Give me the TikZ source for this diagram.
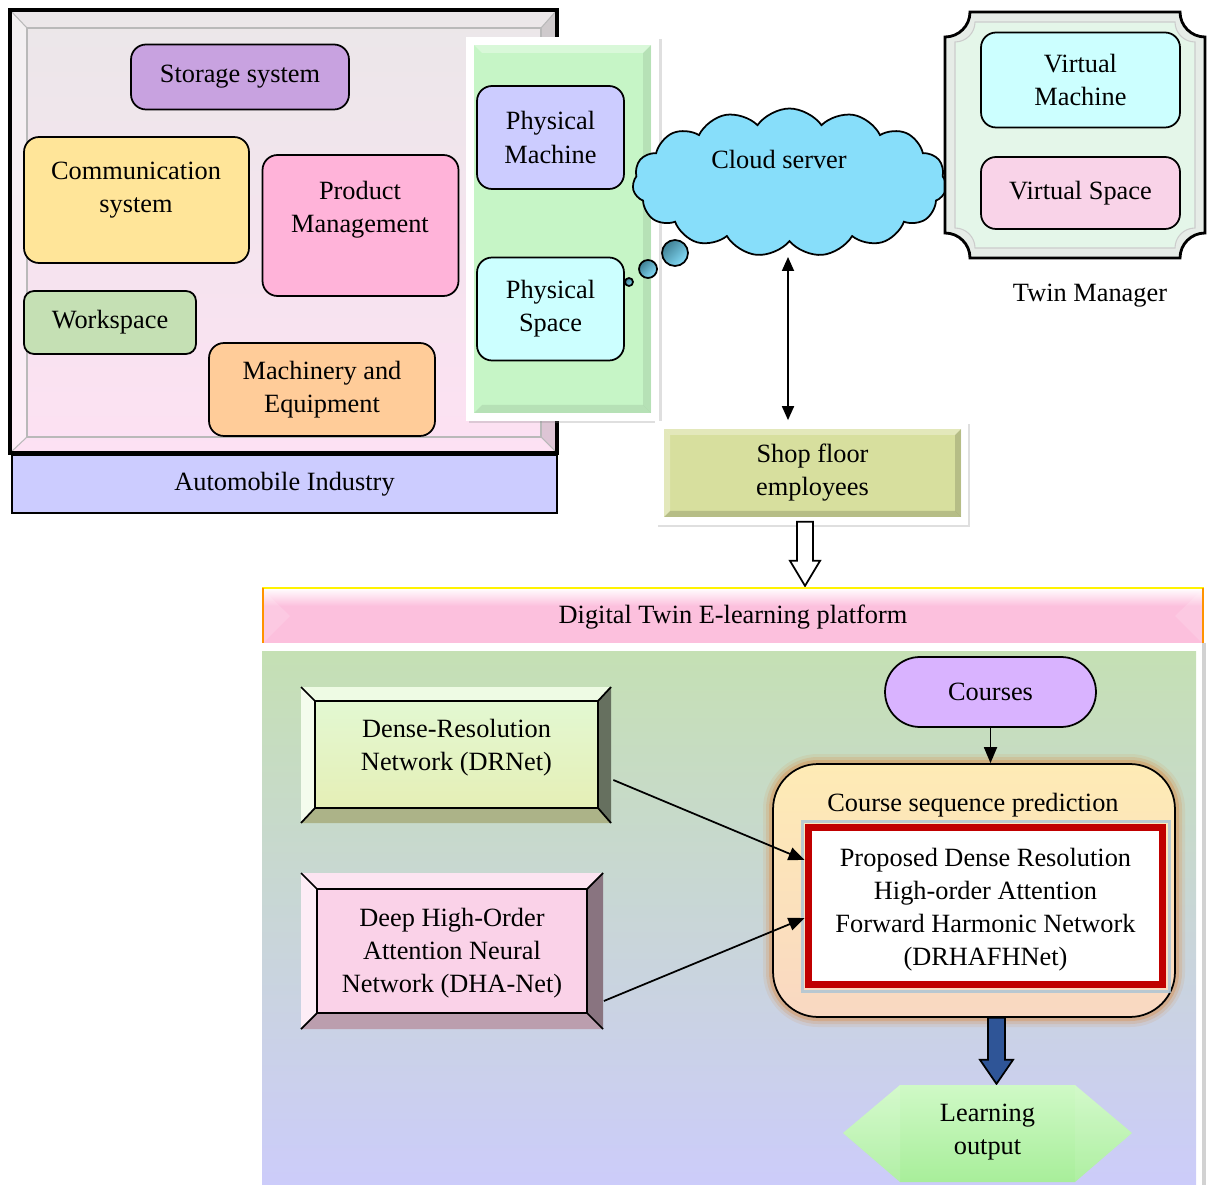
\documentclass[tikz,border=0pt]{standalone}
\usepackage{fontspec}
\setmainfont{Liberation Serif}
\usetikzlibrary{shapes.symbols,arrows.meta,calc,shadows}

\definecolor{autotop}{HTML}{EBE7E9}
\definecolor{autobot}{HTML}{FDE1F3}
\definecolor{autolbl}{HTML}{CCCCFF}
\definecolor{storagec}{HTML}{C8A2E0}
\definecolor{commc}{HTML}{FFE599}
\definecolor{prodc}{HTML}{FFB3D9}
\definecolor{workc}{HTML}{C5E0B4}
\definecolor{machc}{HTML}{FFCC99}
\definecolor{greenpan}{HTML}{C6F5C6}
\definecolor{physmc}{HTML}{CCCCFF}
\definecolor{physsc}{HTML}{CCFFFF}
\definecolor{cloudc}{HTML}{87DEFA}
\definecolor{bubdark}{HTML}{3E7F93}
\definecolor{twinin}{HTML}{E4F6E9}
\definecolor{twinout}{HTML}{E6ECE7}
\definecolor{virtmc}{HTML}{CCFFFF}
\definecolor{virtsc}{HTML}{F9D3E8}
\definecolor{shopc}{HTML}{D7DF9E}
\definecolor{bannerc}{HTML}{FCC0DD}
\definecolor{paneltop}{HTML}{C5E0B4}
\definecolor{panelbot}{HTML}{CCCCFA}
\definecolor{drc}{HTML}{E3F8D2}
\definecolor{drcb}{HTML}{E5EFB6}
\definecolor{dhac}{HTML}{FAD2E8}
\definecolor{coursec}{HTML}{D9B3FF}
\definecolor{seqtop}{HTML}{FEEBB5}
\definecolor{seqbot}{HTML}{F9D8C2}
\definecolor{glowc}{HTML}{D98A45}
\definecolor{glowb}{HTML}{A9C4D6}
\definecolor{redc}{HTML}{C00000}
\definecolor{bluearr}{HTML}{2F5597}
\definecolor{learntop}{HTML}{CFF9C6}
\definecolor{learnbot}{HTML}{A8EE9A}

\begin{document}
\begin{tikzpicture}[x=0.02cm, y=-0.02cm, line width=1pt,
    font=\fontsize{15}{18.8}\selectfont,
    rbox/.style={draw, rounded corners=0.3cm, align=center, inner sep=0},
    txt/.style={align=center, inner sep=0},
    arr/.style={-{Triangle[length=0.32cm, width=0.26cm]}},
    dbl/.style={{Triangle[length=0.28cm, width=0.24cm]}-{Triangle[length=0.28cm, width=0.24cm]}}]
    \useasboundingbox (0,0) rectangle (1207,1185);

    % automobile industry
    \shade[top color=autotop, bottom color=autobot] (10,10) rectangle (557,453);
    \fill[black, opacity=0.12] (557,10) -- (541,28) -- (541,437) -- (557,453) -- cycle;
    \fill[white, opacity=0.4] (10,10) -- (27,28) -- (27,437) -- (10,453) -- cycle;
    \draw[gray!55, line width=0.6pt] (27,28) rectangle (541,437);
    \draw[gray!55, line width=0.6pt] (10,10) -- (27,28) (557,10) -- (541,28) (10,453) -- (27,437) (557,453) -- (541,437);
    \draw[line width=1.8pt] (10,10) rectangle (557,453);
    \node[draw, fill=autolbl, minimum width=10.9cm, minimum height=1.16cm] (autolbl) at (284.5,484) {Automobile Industry};

    \node[rbox, fill=storagec, minimum width=4.36cm, minimum height=1.3cm] (storage) at (240,77) {Storage system};
    \node[rbox, fill=commc, minimum width=4.5cm, minimum height=2.52cm] (comm) at (136.5,200) {};
    \node[txt] (commtxt) at (136,190) {Communication\\system};
    \node[rbox, fill=prodc, minimum width=3.92cm, minimum height=2.82cm] (prod) at (360.5,225.5) {};
    \node[txt] (prodtxt) at (360,209.5) {Product\\Management};
    \node[rbox, fill=workc, rounded corners=0.2cm, minimum width=3.44cm, minimum height=1.26cm] (work) at (110,322.5) {Workspace};
    \node[rbox, fill=machc, minimum width=4.52cm, minimum height=1.86cm] (mach) at (322,389.5) {Machinery and\\Equipment};

    % physical side
    \fill[white, drop shadow={opacity=0.25, shadow xshift=0.05cm, shadow yshift=-0.05cm}] (466,37) rectangle (659,421);
    \fill[greenpan] (474,45) rectangle (651,413);
    \fill[white, opacity=0.35] (474,45) -- (651,45) -- (643,53) -- (482,53) -- cycle;
    \fill[black, opacity=0.08] (651,45) -- (643,53) -- (643,405) -- (651,413) -- cycle;
    \fill[black, opacity=0.08] (474,413) -- (482,405) -- (643,405) -- (651,413) -- cycle;
    \node[rbox, fill=physmc, minimum width=2.94cm, minimum height=2.06cm] (physm) at (550.5,137.5) {Physical\\Machine};
    \node[rbox, fill=physsc, minimum width=2.94cm, minimum height=2.06cm] (physs) at (550.5,309) {Physical\\Space};

    % cloud
    \node[cloud, cloud puffs=15, cloud puff arc=110, cloud ignores aspect, draw, fill=cloudc, minimum width=6.28cm, minimum height=2.96cm] (cloud) at (789.5,182.5) {};
    \node[txt] (cloudtxt) at (779,159) {Cloud server};
    \coordinate (cloudbot) at (788,257);
    \foreach \x/\y/\d [count=\i] in {675/253/0.52, 648/269/0.36, 629/282/0.16}
        \node[circle, draw, inner sep=0, minimum size=\d cm, top color=bubdark, bottom color=cloudc, shading angle=45] (bub\i) at (\x,\y) {};

    % twin manager
    \draw[line width=1.6pt, fill=twinout] (970,12) -- (1180,12) .. controls (1180,25.8) and (1191.2,37) .. (1205,37)
        -- (1205,233) .. controls (1191.2,233) and (1180,244.2) .. (1180,258)
        -- (970,258) .. controls (970,244.2) and (958.8,233) .. (945,233)
        -- (945,37) .. controls (958.8,37) and (970,25.8) .. (970,12) -- cycle;
    \draw[gray!40, line width=0.6pt, fill=twinin] (975,22) -- (1175,22) .. controls (1175,33) and (1184,42) .. (1195,42)
        -- (1195,228) .. controls (1184,228) and (1175,237) .. (1175,248)
        -- (975,248) .. controls (975,237) and (966,228) .. (955,228)
        -- (955,42) .. controls (966,42) and (975,33) .. (975,22) -- cycle;
    \node[rbox, fill=virtmc, minimum width=3.98cm, minimum height=1.9cm] (virtm) at (1080.5,80) {Virtual\\Machine};
    \node[rbox, fill=virtsc, minimum width=3.98cm, minimum height=1.44cm] (virts) at (1080.5,193) {Virtual Space};
    \node[txt] (twin) at (1090,296) {Twin Manager};

    % shop floor
    \node[fill=white, minimum width=6.26cm, minimum height=2.08cm, drop shadow={opacity=0.25, shadow xshift=0.05cm, shadow yshift=-0.05cm}] (shopfr) at (811.5,473) {};
    \node[txt, fill=shopc, minimum width=5.94cm, minimum height=1.76cm] (shop) at (812.5,473) {Shop floor\\employees};
    \fill[white, opacity=0.3] (664,429) -- (961,429) -- (955,435) -- (670,435) -- cycle;
    \fill[white, opacity=0.3] (664,429) -- (670,435) -- (670,511) -- (664,517) -- cycle;
    \fill[black, opacity=0.15] (961,429) -- (955,435) -- (955,511) -- (961,517) -- cycle;
    \fill[black, opacity=0.15] (664,517) -- (670,511) -- (955,511) -- (961,517) -- cycle;
    \draw[dbl] (cloudbot) -- (cloudbot |- shopfr.north);
    \draw[fill=white] ($(shopfr.south)+(-14.5,-4)$) -- ++(16,0) -- ++(0,39) -- ++(7,0) -- ++(-15,25) -- ++(-15,-25) -- ++(7,0) -- cycle;

    % platform banner
    \fill[bannerc] (262,588) rectangle (1203,643);
    \shade[top color=white, bottom color=bannerc] (262,588) rectangle (1203,606);
    \fill[white, opacity=0.15] (263,590) -- (290,616) -- (263,643) -- cycle;
    \fill[white, opacity=0.15] (1202,590) -- (1175,616) -- (1202,643) -- cycle;
    \draw[yellow, line width=1.5pt] (262,588) -- (1204,588);
    \draw[orange!85!yellow, line width=1.2pt] (263,588) -- (263,643) (1203,588) -- (1203,643);
    \node[txt] (plat) at (733,617) {Digital Twin E-learning platform};

    % lower panel
    \shade[top color=paneltop, bottom color=panelbot] (262,651) rectangle (1196,1185);
    \draw[gray!35, line width=2pt] (1204,643) -- (1204,1185);

    % DRNet
    \fill[drc!60!white] (301,687) -- (611,687) -- (598,701) -- (315,701) -- cycle;
    \fill[drc!40!white] (301,687) -- (315,701) -- (315,808) -- (301,823) -- cycle;
    \fill[drc!45!black] (611,687) -- (598,701) -- (598,808) -- (611,823) -- cycle;
    \fill[drcb!75!black] (301,823) -- (315,808) -- (598,808) -- (611,823) -- cycle;
    \node[draw, top color=drc, bottom color=drcb, minimum width=5.66cm, minimum height=2.14cm] (drn) at (456.5,754.5) {};
    \node[txt] (drntxt) at (456.5,748) {Dense-Resolution\\Network (DRNet)};
    \draw (301,687) -- (315,701) (611,687) -- (598,701) (301,823) -- (315,808) (611,823) -- (598,808);

    % DHA-Net
    \fill[dhac!60!white] (301,873) -- (603,873) -- (587,889) -- (317,889) -- cycle;
    \fill[dhac!40!white] (301,873) -- (317,889) -- (317,1013) -- (301,1029) -- cycle;
    \fill[dhac!55!black] (603,873) -- (587,889) -- (587,1013) -- (603,1029) -- cycle;
    \fill[dhac!75!black] (301,1029) -- (317,1013) -- (587,1013) -- (603,1029) -- cycle;
    \node[draw, fill=dhac, minimum width=5.4cm, minimum height=2.48cm] (dha) at (452,951) {};
    \node[txt] (dhatxt) at (452,953.5) {Deep High-Order\\Attention Neural\\Network (DHA-Net)};
    \draw (301,873) -- (317,889) (603,873) -- (587,889) (301,1029) -- (317,1013) (603,1029) -- (587,1013);

    % course sequence prediction
    \node[rbox, rounded corners=0.7cm, fill=coursec, minimum width=4.22cm, minimum height=1.4cm] (courses) at (990.5,692) {Courses};
    \foreach \w/\o in {0.4/0.12, 0.28/0.2, 0.16/0.35}
        \draw[glowc, line width=\w cm, opacity=\o, rounded corners=0.9cm] (773,764) rectangle (1175,1017);
    \node[draw, rounded corners=0.9cm, top color=seqtop, bottom color=seqbot, minimum width=8.04cm, minimum height=5.06cm] (seq) at (974,890.5) {};
    \node[txt] (seqtxt) at (973,805) {Course sequence prediction};
    \draw[arr] (courses.south) -- (courses.south |- seq.north);
    \draw[glowb, line width=0.06cm, opacity=0.8] (802,821) rectangle (1169,991);
    \node[draw=redc, line width=0.14cm, fill=white, minimum width=7.1cm, minimum height=3.16cm] (prop) at (985.5,906) {};
    \node[txt] (proptxt) at (985.5,909.5) {Proposed Dense Resolution\\High-order Attention\\Forward Harmonic Network\\(DRHAFHNet)};
    \draw[arr] ($(drn.east)+(14.5,25.5)$) -- ($(prop.west)+(0,-46)$);
    \draw[arr] ($(dha.east)+(16,50)$) -- ($(prop.west)+(0,12)$);

    % learning output
    \draw[fill=bluearr] ($(seq.south)+(14,0)$) -- ++(17,0) -- ++(0,42) -- ++(8,0) -- ++(-16.5,24) -- ++(-16.5,-24) -- ++(8,0) -- cycle;
    \shade[top color=learntop, bottom color=learnbot] (843,1133) -- (900,1085) -- (1075,1085) -- (1132,1133) -- (1075,1182) -- (900,1182) -- cycle;
    \fill[white, opacity=0.12] (843,1133) -- (900,1085) -- (900,1182) -- cycle;
    \fill[white, opacity=0.08] (1132,1133) -- (1075,1085) -- (1075,1182) -- cycle;
    \node[txt] (learn) at (987.5,1132) {Learning\\output};
\end{tikzpicture}
\end{document}
